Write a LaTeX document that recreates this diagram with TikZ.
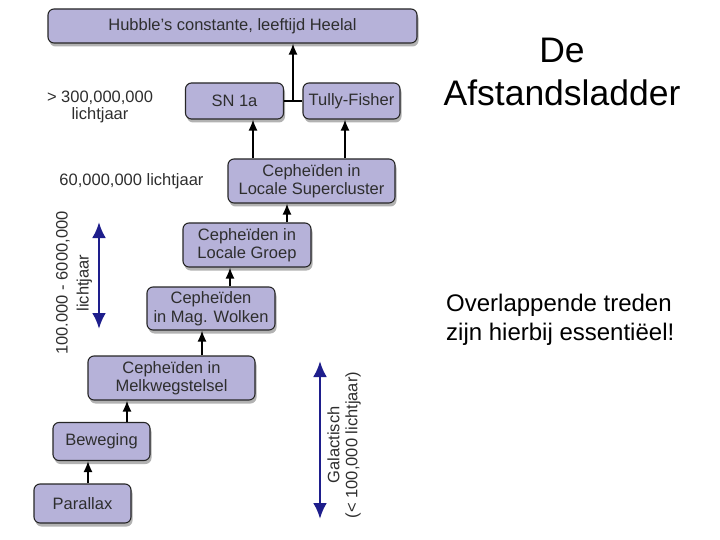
\documentclass[tikz,border=0pt]{standalone}
\usepackage{fontspec}
\setmainfont{Liberation Sans}
\usetikzlibrary{arrows.meta,shadows}
\definecolor{boxfill}{HTML}{B6B2D9}
\definecolor{boxtext}{HTML}{2E2E2E}
\definecolor{navy}{HTML}{1E1E8C}
\tikzset{
  stepbox/.style={draw=black!85, line width=1.1pt, rounded corners=6pt, fill=boxfill,
    text=boxtext, align=center, inner sep=0pt,
    font=\fontsize{16.5}{18.5}\selectfont,
    drop shadow={shadow xshift=1.5pt, shadow yshift=-3.5pt, fill=black, opacity=0.3}},
  arr/.style={line width=1.6pt, -{Latex[length=11pt,width=9pt]}},
  plain/.style={line width=1.6pt},
  bluearr/.style={navy, line width=2.8pt, {Latex[length=16pt,width=14pt]}-{Latex[length=16pt,width=14pt]}},
  lbl/.style={text=boxtext, align=center, inner sep=0pt, font=\fontsize{16.5}{17}\selectfont},
  title/.style={align=center, inner sep=0pt, font=\fontsize{35.5}{43}\selectfont},
  note/.style={align=left, inner sep=0pt, font=\fontsize{24}{29}\selectfont},
}
\begin{document}
\begin{tikzpicture}[x=1pt,y=-1pt]
\useasboundingbox (0,0) rectangle (720,540);
% boxes
\node[stepbox, minimum width=369pt, minimum height=34pt] (hub) at (232.5,26) {Hubble's constante, leeftijd Heelal};
\node[stepbox, minimum width=98pt, minimum height=36pt] (sn) at (234.5,101) {SN 1a};
\node[stepbox, minimum width=97pt, minimum height=36pt] (tf) at (351.5,101) {Tully-Fisher};
\node[stepbox, minimum width=167pt, minimum height=44pt] (sup) at (311.5,181) {Cepheïden in\\Locale Supercluster};
\node[stepbox, minimum width=128pt, minimum height=44pt] (grp) at (247,245) {Cepheïden in\\Locale Groep};
\node[stepbox, minimum width=128pt, minimum height=43pt] (mag) at (211,308.5) {Cepheïden\\in Mag. Wolken};
\node[stepbox, minimum width=167pt, minimum height=44pt] (mw) at (171.5,378) {Cepheïden in\\Melkwegstelsel};
\node[stepbox, minimum width=97pt, minimum height=38pt] (bew) at (101.5,441.5) {Beweging};
\node[stepbox, minimum width=97pt, minimum height=39pt] (par) at (82.5,503.5) {Parallax};
% connectors
\coordinate (j) at (293,101);
\draw[plain] (sn.east) -- (tf.west);
\draw[arr] (j) -- (j |- hub.south);
\coordinate (a1) at (253,0);
\coordinate (a2) at (345,0);
\coordinate (a3) at (287,0);
\coordinate (a4) at (230,0);
\coordinate (a5) at (202,0);
\coordinate (a6) at (127,0);
\coordinate (a7) at (88,0);
\draw[arr] (sup.north -| a1) -- (sn.south -| a1);
\draw[arr] (sup.north -| a2) -- (tf.south -| a2);
\draw[arr] (grp.north -| a3) -- (sup.south -| a3);
\draw[arr] (mag.north -| a4) -- (grp.south -| a4);
\draw[arr] (mw.north -| a5) -- (mag.south -| a5);
\draw[arr] (bew.north -| a6) -- (mw.south -| a6);
\draw[arr] (par.north -| a7) -- (bew.south -| a7);
% blue range arrows
\coordinate (b1t) at (99,222);
\coordinate (b1b) at (99,329);
\draw[bluearr] (b1t) -- (b1b);
\coordinate (b2t) at (320,361);
\coordinate (b2b) at (320,519);
\draw[bluearr] (b2t) -- (b2b);
% labels
\node[lbl] (l300) at (100,106.5) {> 300,000,000\\lichtjaar};
\node[lbl] (l60) at (131.5,181) {60,000,000 lichtjaar};
\node[lbl, rotate=90, font=\fontsize{16.5}{21}\selectfont] (lcep) at (74,283) {100.000 - 6000,000\\lichtjaar};
\node[lbl, rotate=90, font=\fontsize{16.5}{18}\selectfont] (lgal) at (344,445) {Galactisch\\(< 100,000 lichtjaar)};
% title and note
\node[title] (t) at (562,72) {De\\Afstandsladder};
\node[note, anchor=north west] (n) at (446,294) {Overlappende treden\\zijn hierbij essentiëel!};
\end{tikzpicture}
\end{document}
